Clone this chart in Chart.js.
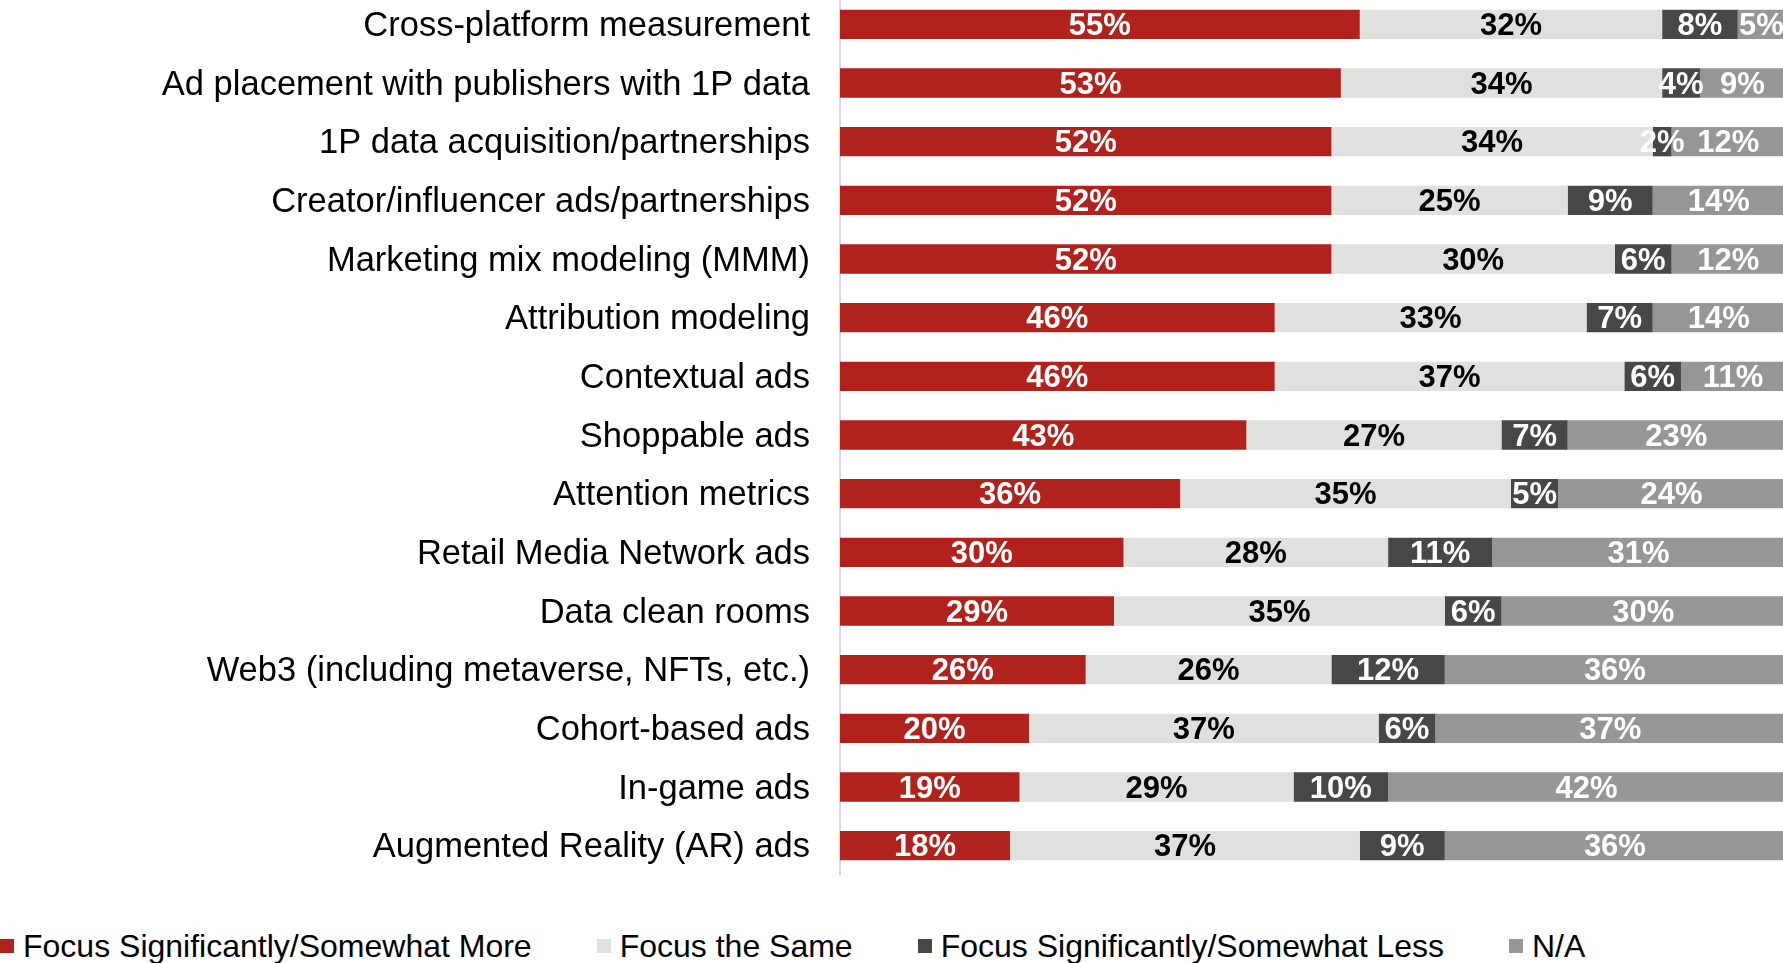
<!DOCTYPE html>
<html>
<head>
<meta charset="utf-8">
<title>Focus areas</title>
<script src="https://cdn.jsdelivr.net/npm/chart.js@4.4.1/dist/chart.umd.min.js"></script>
<style>
  html, body { margin: 0; padding: 0; background: #fff; }
  #wrap { position: relative; width: 1783px; height: 963px; overflow: hidden; }
  #chartBox { position: absolute; left: 0; top: -5px; width: 1785px; height: 880px; }
  #legend {
    position: absolute; left: 0; top: 928px;
    display: flex; gap: 65px; align-items: center;
    font: 32px "Liberation Sans", Arial, sans-serif; color: #000;
    line-height: 36px; white-space: nowrap;
  }
  #legend .item { display: flex; align-items: center; }
  #legend .box { width: 14px; height: 14px; margin-right: 9px; }
</style>
</head>
<body>
<div id="wrap">
  <div id="chartBox"><canvas id="chart"></canvas></div>
  <div id="legend"></div>
</div>
<script>
// ---- data ----
const categories = [
  "Cross-platform measurement",
  "Ad placement with publishers with 1P data",
  "1P data acquisition/partnerships",
  "Creator/influencer ads/partnerships",
  "Marketing mix modeling (MMM)",
  "Attribution modeling",
  "Contextual ads",
  "Shoppable ads",
  "Attention metrics",
  "Retail Media Network ads",
  "Data clean rooms",
  "Web3 (including metaverse, NFTs, etc.)",
  "Cohort-based ads",
  "In-game ads",
  "Augmented Reality (AR) ads"
];

const seriesNames = [
  "Focus Significantly/Somewhat More",
  "Focus the Same",
  "Focus Significantly/Somewhat Less",
  "N/A"
];

const moreValues = [55, 53, 52, 52, 52, 46, 46, 43, 36, 30, 29, 26, 20, 19, 18];
const sameValues = [32, 34, 34, 25, 30, 33, 37, 27, 35, 28, 35, 26, 37, 29, 37];
const lessValues = [8, 4, 2, 9, 6, 7, 6, 7, 5, 11, 6, 12, 6, 10, 9];
const naValues   = [5, 9, 12, 14, 12, 14, 11, 23, 24, 31, 30, 36, 37, 42, 36];

// ---- styling ----
const FONT = '"Liberation Sans", Arial, sans-serif';
const barColors = ["#B2221C", "#E0E0DF", "#474747", "#969696"];
const labelColors = ["#ffffff", "#000000", "#ffffff", "#ffffff"];

// value labels centred in each segment
const segmentLabels = {
  id: "segmentLabels",
  afterDatasetsDraw(chart) {
    const ctx = chart.ctx;
    ctx.save();
    ctx.font = "bold 31px " + FONT;
    ctx.textAlign = "center";
    ctx.textBaseline = "middle";
    chart.data.datasets.forEach((ds, i) => {
      const meta = chart.getDatasetMeta(i);
      ctx.fillStyle = labelColors[i];
      meta.data.forEach((bar, j) => {
        const v = ds.data[j];
        if (!v) return;
        const cx = (bar.x + bar.base) / 2;
        ctx.fillText(v + "%", cx, bar.y + 2);
      });
    });
    ctx.restore();
  }
};

const seriesData = [moreValues, sameValues, lessValues, naValues];

const chart = new Chart(document.getElementById("chart"), {
  type: "bar",
  data: {
    labels: categories,
    datasets: seriesNames.map((name, i) => ({
      label: name,
      data: seriesData[i],
      backgroundColor: barColors[i],
      borderWidth: 0,
      barPercentage: 1,
      categoryPercentage: 0.5
    }))
  },
  options: {
    indexAxis: "y",
    responsive: true,
    maintainAspectRatio: false,
    animation: false,
    layout: { padding: 0 },
    plugins: {
      legend: { display: false },
      tooltip: { enabled: false }
    },
    scales: {
      x: {
        stacked: true,
        min: 0,
        max: 100,
        display: false
      },
      y: {
        stacked: true,
        grid: { display: false, drawTicks: false },
        border: { display: true, color: "#D9D9D9", width: 2 },
        ticks: {
          color: "#000",
          padding: 30,
          labelOffset: 2,
          font: { family: FONT, size: 34.5 }
        },
        afterFit(scale) {
          // fixed label column; let the bands use the full height
          scale.width = 840;
          scale.paddingTop = 0;
          scale.paddingBottom = 0;
        }
      }
    }
  },
  plugins: [segmentLabels]
});

// legend row built from the same series
const legendEl = document.getElementById("legend");
seriesNames.forEach((name, i) => {
  const item = document.createElement("div");
  item.className = "item";
  const box = document.createElement("span");
  box.className = "box";
  box.style.background = barColors[i];
  const txt = document.createElement("span");
  txt.textContent = name;
  item.appendChild(box);
  item.appendChild(txt);
  legendEl.appendChild(item);
});
</script>
</body>
</html>
